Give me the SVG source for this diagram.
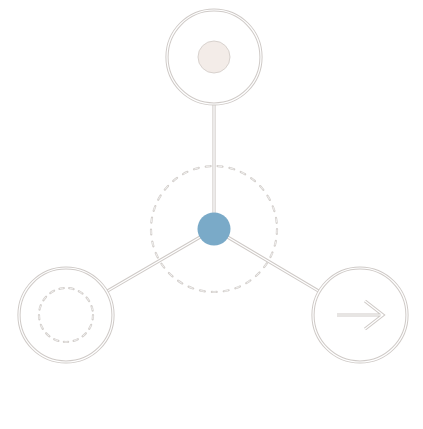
<svg xmlns="http://www.w3.org/2000/svg" width="423" height="429" viewBox="0 0 423 429">
<defs>
<style>
.o{fill:none;stroke:#cfcac7;stroke-width:3.2}
.i{fill:none;stroke:#ffffff;stroke-width:1.2}
.d{fill:none;stroke:#d4d0cd;stroke-width:2.2;stroke-dasharray:5 7;stroke-linecap:round}
.di{fill:none;stroke:#ffffff;stroke-width:0.7;stroke-dasharray:4 8;stroke-dashoffset:-0.5}
</style>
</defs>
<rect width="423" height="429" fill="#ffffff"/>
<g id="connectors">
<path class="o" d="M214 104V229M214 229L106.7 291.4M214 229L319.3 291.4"/>
<path class="i" d="M214 104V229M214 229L106.7 291.4M214 229L319.3 291.4"/>
</g>
<g id="ring">
<circle class="d" cx="214" cy="229" r="63"/>
<circle class="di" cx="214" cy="229" r="63"/>
</g>
<g id="top">
<circle class="o" cx="214" cy="57" r="47"/>
<circle class="i" cx="214" cy="57" r="47"/>
<circle cx="214" cy="57" r="16" fill="#f3ece8" stroke="#d8d2ce" stroke-width="1"/>
</g>
<g id="center">
<circle cx="214" cy="229" r="16.5" fill="#7aaac8"/>
</g>
<g id="left">
<circle cx="66" cy="315" r="47" fill="#ffffff"/>
<circle class="o" cx="66" cy="315" r="47"/>
<circle class="i" cx="66" cy="315" r="47"/>
<circle class="d" cx="66" cy="315" r="27" style="stroke-dasharray:4.5 5.5"/>
<circle class="di" cx="66" cy="315" r="27" style="stroke-dasharray:3.5 6.5"/>
</g>
<g id="right">
<circle cx="360" cy="315" r="47" fill="#ffffff"/>
<circle class="o" cx="360" cy="315" r="47"/>
<circle class="i" cx="360" cy="315" r="47"/>
<path class="o" d="M337 315H383M365 301L383 315L365 329" stroke-linejoin="miter"/>
<path class="i" d="M337 315H383M365 301L383 315L365 329"/>
</g>
</svg>
